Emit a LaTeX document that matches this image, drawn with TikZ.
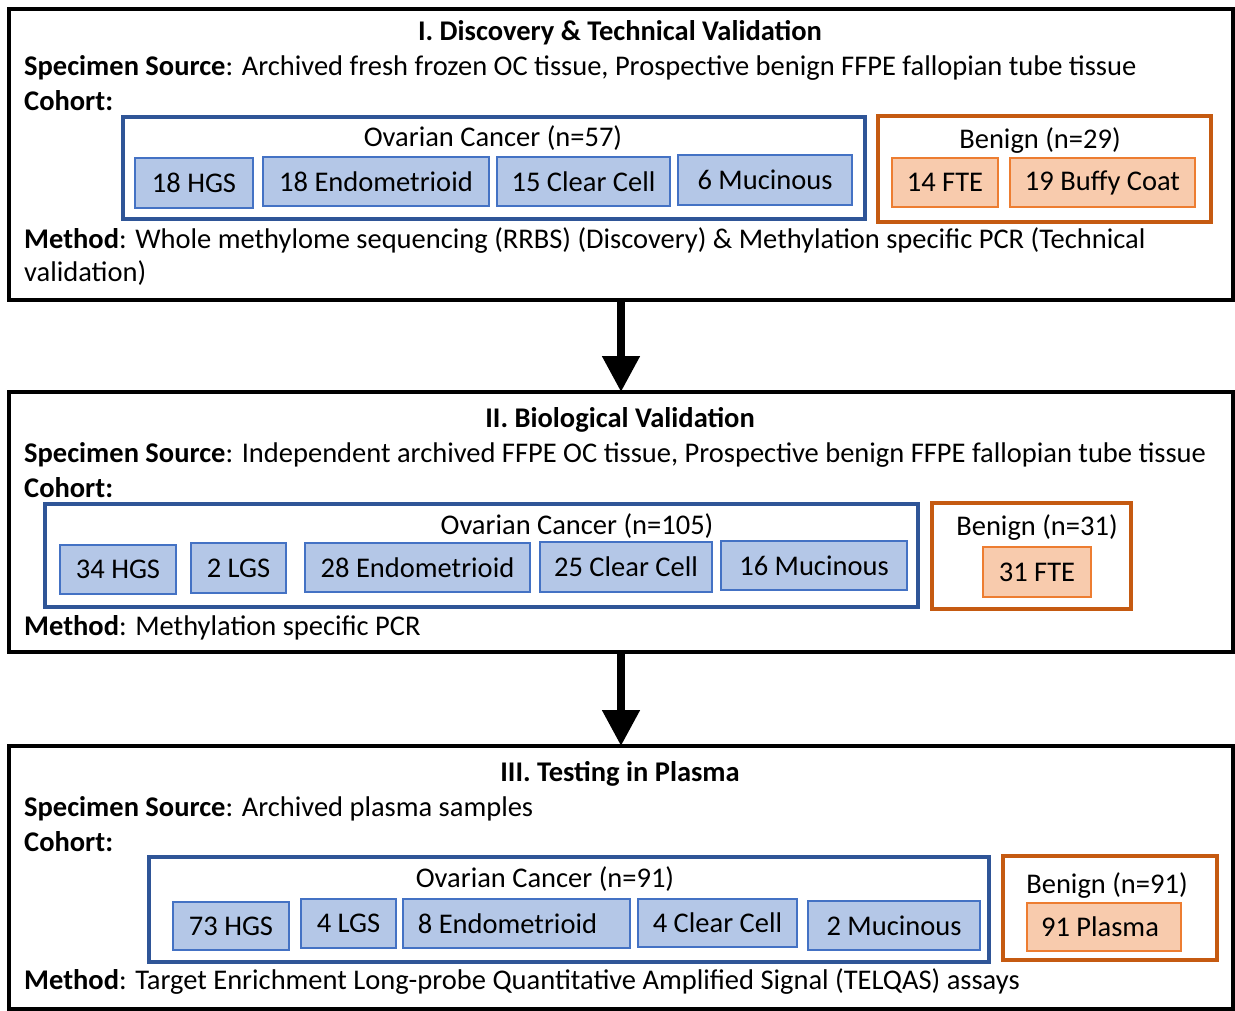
\documentclass[tikz,border=0pt]{standalone}
\usepackage{fontspec}
\setmainfont{Carlito}
\usetikzlibrary{arrows.meta}
\definecolor{bluebd}{HTML}{2F5597}
\definecolor{bluecell}{HTML}{4472C4}
\definecolor{bluefill}{HTML}{B4C7E7}
\definecolor{orgbd}{HTML}{C55A11}
\definecolor{orgcell}{HTML}{ED7D31}
\definecolor{orgfill}{HTML}{F8CBAD}
\newcommand\fsz{\fontsize{28.5}{33}\selectfont}
\tikzset{
  stagebox/.style={draw=black, line width=3.5pt, inner sep=0pt, outer sep=0pt},
  bluegrp/.style={draw=bluebd, line width=3.5pt, inner sep=0pt, outer sep=0pt},
  orggrp/.style={draw=orgbd, line width=3.5pt, inner sep=0pt, outer sep=0pt},
  bcell/.style={draw=bluecell, fill=bluefill, line width=1.3pt, inner sep=0pt, font=\fsz},
  ocell/.style={draw=orgcell, fill=orgfill, line width=1.3pt, inner sep=0pt, font=\fsz},
  txt/.style={anchor=base west, inner sep=0pt, font=\fsz},
  ctxt/.style={anchor=base, inner sep=0pt, font=\fsz},
  ttl/.style={anchor=base, inner sep=0pt, font=\fsz\bfseries},
  flow/.style={line width=8pt, -{Triangle[width=36pt,length=36pt]}}
}
\begin{document}
\begin{tikzpicture}[x=1pt,y=-1pt]
\useasboundingbox (0,0) rectangle (1235,1011);
% ---------- Stage I ----------
\node[stagebox, minimum width=1224pt, minimum height=291pt] (b1) at (621,154.5) {};
\node[ttl] (t1) at (620,41) {I. Discovery \& Technical Validation};
\node[txt] (s1) at (24,76) {\textbf{Specimen Source}: Archived fresh frozen OC tissue, Prospective benign FFPE fallopian tube tissue};
\node[txt] (c1) at (24,111) {\textbf{Cohort:}};
\node[bluegrp, minimum width=742pt, minimum height=102pt] (g1) at (494,168) {};
\node[ctxt] (g1l) at (493,147) {Ovarian Cancer (n=57)};
\node[bcell, minimum width=118pt, minimum height=50pt] (a1) at (194,183) {18 HGS};
\node[bcell, minimum width=226pt, minimum height=49pt] (a2) at (376,181.5) {18 Endometrioid};
\node[bcell, minimum width=173pt, minimum height=49pt] (a3) at (583.5,181.5) {15 Clear Cell};
\node[bcell, minimum width=174pt, minimum height=50pt] (a4) at (765,180) {6 Mucinous};
\node[orggrp, minimum width=333pt, minimum height=106pt] (o1) at (1044.5,169) {};
\node[ctxt] (o1l) at (1040,149) {Benign (n=29)};
\node[ocell, minimum width=106pt, minimum height=49pt] (a5) at (945,182.5) {14 FTE};
\node[ocell, minimum width=185pt, minimum height=49pt] (a6) at (1102.5,182.5) {19 Buffy Coat};
\node[txt] (m1) at (24,249) {\textbf{Method}: Whole methylome sequencing (RRBS) (Discovery) \& Methylation specific PCR (Technical};
\node[txt] (m1b) at (24,282) {validation)};
% ---------- Stage II ----------
\node[stagebox, minimum width=1224pt, minimum height=260pt] (b2) at (621,522) {};
\node[ttl] (t2) at (620,427) {II. Biological Validation};
\node[txt] (s2) at (24,462) {\textbf{Specimen Source}: Independent archived FFPE OC tissue, Prospective benign FFPE fallopian tube tissue};
\node[txt] (c2) at (24,497) {\textbf{Cohort:}};
\node[bluegrp, minimum width=873pt, minimum height=103pt] (g2) at (481.5,555.5) {};
\node[ctxt] (g2l) at (577,534) {Ovarian Cancer (n=105)};
\node[bcell, minimum width=116pt, minimum height=49pt] (d1) at (118,569.5) {34 HGS};
\node[bcell, minimum width=95pt, minimum height=50pt] (d2) at (238.5,568) {2 LGS};
\node[bcell, minimum width=225pt, minimum height=49pt] (d3) at (417.5,567.5) {28 Endometrioid};
\node[bcell, minimum width=172pt, minimum height=50pt] (d4) at (626,567) {25 Clear Cell};
\node[bcell, minimum width=186pt, minimum height=49pt] (d5) at (814,565.5) {16 Mucinous};
\node[orggrp, minimum width=199pt, minimum height=106pt] (o2) at (1031.5,556) {};
\node[ctxt] (o2l) at (1037,535) {Benign (n=31)};
\node[ocell, minimum width=108pt, minimum height=50pt] (d6) at (1037,572) {31 FTE};
\node[txt] (m2) at (24,635) {\textbf{Method}: Methylation specific PCR};
% ---------- Stage III ----------
\node[stagebox, minimum width=1224pt, minimum height=263pt] (b3) at (621,877.5) {};
\node[ttl] (t3) at (620,781) {III. Testing in Plasma};
\node[txt] (s3) at (24,816) {\textbf{Specimen Source}: Archived plasma samples};
\node[txt] (c3) at (24,851) {\textbf{Cohort:}};
\node[bluegrp, minimum width=840pt, minimum height=105pt] (g3) at (569,909.5) {};
\node[ctxt] (g3l) at (545,887) {Ovarian Cancer (n=91)};
\node[bcell, minimum width=116pt, minimum height=48pt] (e1) at (231,926) {73 HGS};
\node[bcell, minimum width=95pt, minimum height=49pt] (e2) at (348.5,923.5) {4 LGS};
\node[bcell, minimum width=227pt, minimum height=49pt] (e3) at (516.5,923.5) {\hspace*{-18pt}8 Endometrioid};
\node[bcell, minimum width=159pt, minimum height=48pt] (e4) at (717.5,923) {4 Clear Cell};
\node[bcell, minimum width=172pt, minimum height=49pt] (e5) at (894,925.5) {2 Mucinous};
\node[orggrp, minimum width=214pt, minimum height=104pt] (o3) at (1110,908) {};
\node[ctxt] (o3l) at (1107,893) {Benign (n=91)};
\node[ocell, minimum width=154pt, minimum height=48pt] (e6) at (1104,927) {\hspace*{-8pt}91 Plasma};
\node[txt] (m3) at (24,989) {\textbf{Method}: Target Enrichment Long-probe Quantitative Amplified Signal (TELQAS) assays};
% ---------- arrows ----------
\draw[flow] (b1.south) -- (b2.north);
\draw[flow] (b2.south) -- (b3.north);
\end{tikzpicture}
\end{document}
